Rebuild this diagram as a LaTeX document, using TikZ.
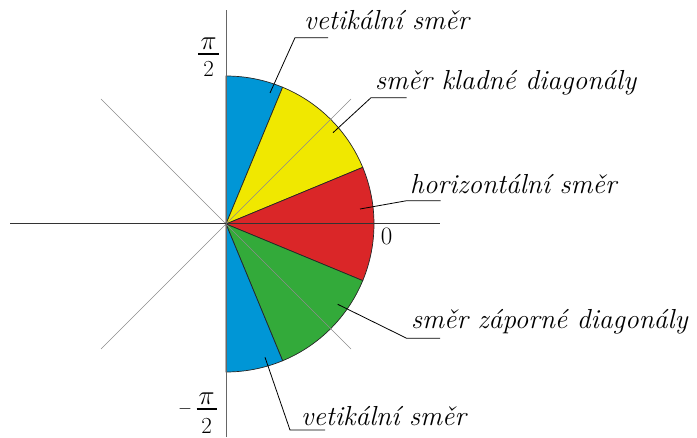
\RequirePackage{fix-cm}
\documentclass[tikz,border=0pt]{standalone}
\definecolor{sblue}{RGB}{0,150,214}
\definecolor{syellow}{RGB}{240,232,0}
\definecolor{sred}{RGB}{218,38,40}
\definecolor{sgreen}{RGB}{51,170,58}
\begin{document}
\begin{tikzpicture}[x=1pt,y=1pt,
  lbl/.style={anchor=base west,inner sep=0pt,font=\fontsize{27.5}{32}\selectfont\itshape},
  num/.style={anchor=base,inner sep=0pt,font=\fontsize{23}{26}\selectfont},
  pinum/.style={anchor=base,inner sep=0pt,font=\fontsize{27}{30}\selectfont},
  sector/.style={draw=black!85,line width=0.7pt},
  leader/.style={draw=black,line width=0.8pt},
  axis/.style={draw=black!80,line width=1pt},
  diag/.style={draw=black!45,line width=0.5pt},
  fracbar/.style={draw=black,line width=1.4pt}]
\useasboundingbox (0,0) rectangle (697,437);
\coordinate (C) at (226,213);
% sectors
\draw[sector,fill=sblue]   (C) -- ++(90:148pt) arc[start angle=90,end angle=67.5,radius=148pt] -- cycle;
\draw[sector,fill=syellow] (C) -- ++(67.5:148pt) arc[start angle=67.5,end angle=22.5,radius=148pt] -- cycle;
\draw[sector,fill=sred]    (C) -- ++(22.5:148pt) arc[start angle=22.5,end angle=-22.5,radius=148pt] -- cycle;
\draw[sector,fill=sgreen]  (C) -- ++(-22.5:148pt) arc[start angle=-22.5,end angle=-67.5,radius=148pt] -- cycle;
\draw[sector,fill=sblue]   (C) -- ++(-67.5:148pt) arc[start angle=-67.5,end angle=-90,radius=148pt] -- cycle;
% diagonals
\coordinate (d1) at (101,338); \coordinate (d2) at (351,88);
\coordinate (d3) at (101,88);  \coordinate (d4) at (351,338);
\draw[diag] (d1) -- (d2);
\draw[diag] (d3) -- (d4);
% axes
\coordinate (ax1) at (10,213); \coordinate (ax2) at (440,213);
\coordinate (ay1) at (226,0);  \coordinate (ay2) at (226,427);
\draw[axis] (ax1) -- (ax2);
\draw[axis,draw=black!60] (ay1) -- (ay2);
% labels
\node[lbl] (t1) at (304,407) {vetikální směr};
\node[lbl] (t2) at (375,347) {směr kladné diagonály};
\node[lbl] (t3) at (410,243.7) {horizontální směr};
\node[lbl] (t4) at (411,108.7) {směr záporné diagonály};
\node[lbl] (t5) at (301,12) {vetikální směr};
% leaders
\coordinate (a1) at (270,344); \coordinate (b1) at (295,399.3); \coordinate (c1) at (328,399.3);
\coordinate (a2) at (333,304.3); \coordinate (b2) at (371,339.3); \coordinate (c2) at (406.7,339.3);
\coordinate (a3) at (360,228); \coordinate (b3) at (406.7,236.3); \coordinate (c3) at (440.7,236.3);
\coordinate (a4) at (337.7,132.7); \coordinate (b4) at (406.7,98.7); \coordinate (c4) at (440,98.7);
\coordinate (a5) at (265,79.7); \coordinate (b5) at (290,7); \coordinate (c5) at (325,7);
\draw[leader] (a1) -- (b1) -- (c1);
\draw[leader] (a2) -- (b2) -- (c2);
\draw[leader] (a3) -- (b3) -- (c3);
\draw[leader] (a4) -- (b4) -- (c4);
\draw[leader] (a5) -- (b5) -- (c5);
% axis values
\node[inner sep=0pt,font=\fontsize{25}{28}\selectfont] (zero) at (386.7,200.5) {0};
\node[pinum] (p1) at (208.7,387) {$\pi$};
\node[num] (q1) at (208.7,360.3) {2};
\coordinate (f1a) at (198.3,383); \coordinate (f1b) at (219,383);
\draw[fracbar] (f1a) -- (f1b);
\node[pinum] (p2) at (206.7,32) {$\pi$};
\node[num] (q2) at (206.7,4) {2};
\coordinate (f2a) at (196.7,28); \coordinate (f2b) at (216.7,28);
\draw[fracbar] (f2a) -- (f2b);
\node[inner sep=0pt,font=\fontsize{18}{20}\selectfont] (minus) at (185,28) {$-$};
\end{tikzpicture}
\end{document}
